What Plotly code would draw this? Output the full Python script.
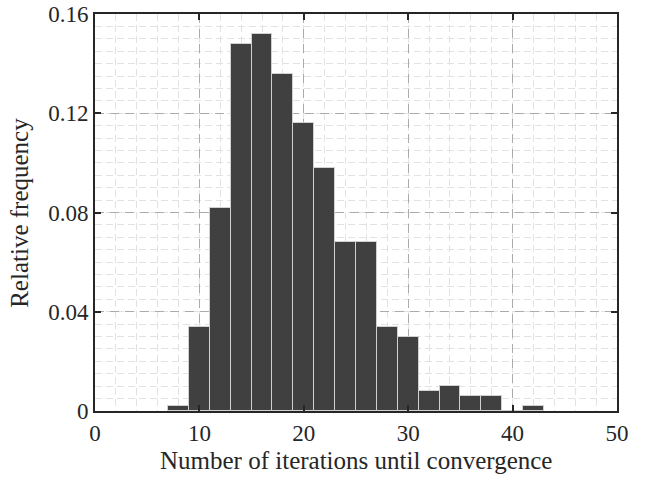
import plotly.graph_objects as go

bin_centers = [8, 10, 12, 14, 16, 18, 20, 22, 24, 26, 28, 30, 32, 34, 36, 38, 40, 42]
rel_freq = [0.002, 0.034, 0.082, 0.148, 0.152, 0.136, 0.116, 0.098, 0.068, 0.068,
            0.034, 0.030, 0.008, 0.010, 0.006, 0.006, 0.0, 0.002]
x_ticks = [0, 10, 20, 30, 40, 50]
y_ticks = [0, 0.04, 0.08, 0.12, 0.16]
y_tick_labels = ["0", "0.04", "0.08", "0.12", "0.16"]
x_title = "Number of iterations until convergence"
y_title = "Relative frequency"

FONT = "Liberation Serif"
TXT = "#262626"

fig = go.Figure()
fig.add_trace(go.Bar(
    x=bin_centers, y=rel_freq, width=2,
    marker=dict(color="#404040", line=dict(color="#d0d0d0", width=1)),
    showlegend=False,
))

axis_common = dict(
    showline=True, linecolor=TXT, linewidth=2, mirror="ticks",
    ticks="inside", ticklen=6, tickwidth=2, tickcolor=TXT,
    showgrid=True, gridcolor="#ababab", griddash="9px,6px", gridwidth=1.3,
    zeroline=False, layer="above traces", automargin=False,
    tickfont=dict(family=FONT, size=23, color=TXT),
)

fig.update_xaxes(
    range=[0, 50], tickvals=x_ticks,
    minor=dict(dtick=2, tick0=0, showgrid=True, gridcolor="#e2e2e2",
               griddash="7px,4px", gridwidth=1.3, ticks=""),
    **axis_common,
)
fig.update_yaxes(
    range=[0, 0.16], tickvals=y_ticks, ticktext=y_tick_labels,
    minor=dict(dtick=0.005, tick0=0, showgrid=True, gridcolor="#e2e2e2",
               griddash="7px,4px", gridwidth=1.3, ticks=""),
    **axis_common,
)

fig.add_annotation(text=x_title, xref="paper", yref="paper", x=0.5, y=-0.089,
                   xanchor="center", yanchor="top", showarrow=False, borderpad=0,
                   font=dict(family=FONT, size=25, color=TXT))
fig.add_annotation(text=y_title, xref="paper", yref="paper", x=-0.145, y=0.5,
                   xanchor="center", yanchor="middle", textangle=-90,
                   showarrow=False, borderpad=0,
                   font=dict(family=FONT, size=25, color=TXT))

fig.update_layout(
    width=650, height=479,
    margin=dict(l=95, r=33, t=14, b=68),
    plot_bgcolor="white", paper_bgcolor="white",
    bargap=0,
)

fig.write_html("out.html", config={"displayModeBar": False},
               post_script="document.body.style.margin='0';")
